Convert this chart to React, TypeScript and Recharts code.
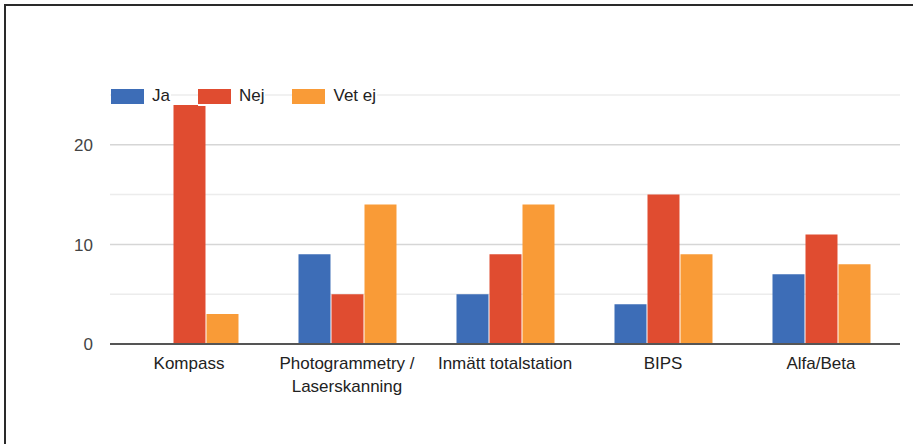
import React from 'react';
import { BarChart, Bar, XAxis, YAxis, CartesianGrid, Legend, Text } from 'recharts';

const categories = ['Kompass', 'Photogrammetry / Laserskanning', 'Inmätt totalstation', 'BIPS', 'Alfa/Beta'];
const ja = [0, 9, 5, 4, 7];
const nej = [24, 5, 9, 15, 11];
const vetEj = [3, 14, 14, 9, 8];
const yTicks = [0, 5, 10, 15, 20, 25];
const labeledTicks = [0, 10, 20];

const seriesNames = ['Ja', 'Nej', 'Vet ej'];
const seriesColors = ['#3d6db7', '#e04c30', '#f99b37'];

const data = categories.map((name, i) => ({ name, ja: ja[i], nej: nej[i], vetEj: vetEj[i] }));

const FONT = '"Liberation Sans", Arial, sans-serif';

const YTick = (props: any) => {
  const { x, y, payload } = props;
  if (!labeledTicks.includes(payload.value)) return null;
  return (
    <text x={x} y={y} dy="0.36em" textAnchor="end" fill="#444" fontSize={17} fontFamily={FONT}>
      {payload.value}
    </text>
  );
};

const XTick = (props: any) => {
  const { x, y, payload } = props;
  return (
    <Text
      x={x}
      y={y}
      width={150}
      textAnchor="middle"
      verticalAnchor="start"
      lineHeight={23}
      fill="#222"
      fontSize={17}
      fontFamily={FONT}
    >
      {payload.value}
    </Text>
  );
};

const GridLine = (props: any) => {
  const { x1, x2, y1, y2, index } = props;
  const major = index % 2 === 0;
  return (
    <line
      key={`g-${index}`}
      x1={x1}
      x2={x2}
      y1={y1}
      y2={y2}
      stroke={major ? '#d6d6d6' : '#ececec'}
      strokeWidth={1.5}
    />
  );
};

const LegendContent = () => (
  <div style={{ display: 'flex', alignItems: 'center', fontFamily: FONT, fontSize: 17, color: '#222' }}>
    {seriesNames.map((n, i) => (
      <div
        key={n}
        style={{ display: 'flex', alignItems: 'center', marginRight: 27, background: '#fff', paddingRight: 1 }}
      >
        <span style={{ display: 'inline-block', width: 33, height: 15, background: seriesColors[i], marginRight: 8 }} />
        <span>{n}</span>
      </div>
    ))}
  </div>
);

export default function App() {
  return (
    <div style={{ position: 'absolute', left: 0, top: 0, width: 913, height: 444, background: '#fff' }}>
      <div
        style={{
          position: 'absolute',
          left: 4,
          top: 4,
          width: 909,
          height: 440,
          borderTop: '2px solid #2a2a2a',
          borderLeft: '2px solid #2a2a2a',
          boxSizing: 'border-box',
        }}
      />
      <BarChart
        width={913}
        height={444}
        data={data}
        margin={{ top: 95, right: 13, bottom: 70, left: 50 }}
        barCategoryGap="19.3%"
        barGap={1}
      >
        <CartesianGrid vertical={false} horizontal={GridLine} />
        <YAxis
          type="number"
          domain={[0, 25]}
          ticks={yTicks}
          width={60}
          axisLine={false}
          tickLine={false}
          tickSize={0}
          tickMargin={17}
          tick={<YTick />}
          interval={0}
        />
        <XAxis
          dataKey="name"
          height={30}
          axisLine={{ stroke: '#555', strokeWidth: 2 }}
          tickLine={false}
          tickSize={0}
          tickMargin={13}
          tick={<XTick />}
          interval={0}
        />
        <Legend
          layout="vertical"
          align="center"
          verticalAlign="middle"
          wrapperStyle={{ position: 'absolute', top: 86, left: 111, width: 'auto' }}
          content={<LegendContent />}
        />
        <Bar dataKey="ja" name={seriesNames[0]} fill={seriesColors[0]} isAnimationActive={false} />
        <Bar dataKey="nej" name={seriesNames[1]} fill={seriesColors[1]} isAnimationActive={false} />
        <Bar dataKey="vetEj" name={seriesNames[2]} fill={seriesColors[2]} isAnimationActive={false} />
      </BarChart>
    </div>
  );
}
